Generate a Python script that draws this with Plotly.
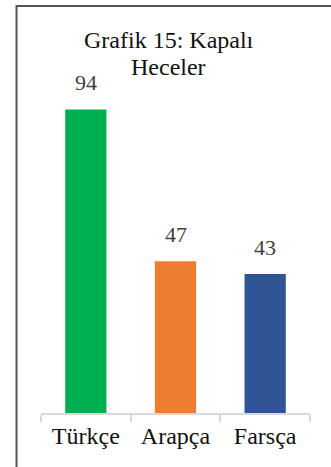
import plotly.graph_objects as go

categories = ["Türkçe", "Arapça", "Farsça"]
values = [94, 47, 43]
colors = ["#00B050", "#ED7D31", "#2F5597"]
title_lines = ["Grafik 15: Kapalı", "Heceler"]

W, H = 331, 467
L, R, T, B = 41, 21, 90, 54
PW, PH = W - L - R, H - T - B
serif = "'Liberation Serif', 'DejaVu Serif', serif"


def px_x(x):
    # pixel column -> plot-area paper fraction
    return (x - L) / PW


def px_y(y):
    # pixel row -> plot-area paper fraction
    return (H - B - y) / PH


fig = go.Figure(
    go.Bar(
        x=categories,
        y=values,
        marker=dict(color=colors, line=dict(width=0)),
        width=0.46,
        hoverinfo="skip",
    )
)

# value labels just above each bar
for c, v in zip(categories, values):
    fig.add_annotation(
        x=c, y=v, text=str(v), showarrow=False,
        yanchor="middle", yshift=27,
        font=dict(family=serif, size=22, color="#404040"),
    )

# chart title, two lines
for line, ypix in zip(title_lines, [40, 67]):
    fig.add_annotation(
        x=px_x(168.5), y=px_y(ypix), xref="paper", yref="paper",
        text=line, showarrow=False, xanchor="center", yanchor="middle",
        font=dict(family=serif, size=24, color="#111111"),
    )

# outer chart frame (left and top edges visible)
fig.add_shape(
    type="rect", xref="paper", yref="paper",
    x0=px_x(16.5), x1=px_x(W + 20), y0=px_y(H + 20), y1=px_y(6),
    line=dict(color="#555555", width=2), fillcolor="rgba(0,0,0,0)", layer="above",
)

fig.update_layout(
    width=W, height=H,
    margin=dict(l=L, r=R, t=T, b=B),
    paper_bgcolor="white", plot_bgcolor="white",
    showlegend=False,
    font=dict(family=serif),
    xaxis=dict(
        showline=True, linecolor="#D9D9D9", linewidth=1.5,
        ticks="outside", tickson="boundaries", ticklen=7, tickcolor="#D9D9D9", tickwidth=1.5,
        tickfont=dict(family=serif, size=24, color="#111111"),
        showgrid=False, zeroline=False, fixedrange=True,
    ),
    yaxis=dict(
        range=[0, 100], visible=False, showgrid=False, zeroline=False, fixedrange=True,
    ),
)

fig.write_html("out.html", config={"displayModeBar": False})
